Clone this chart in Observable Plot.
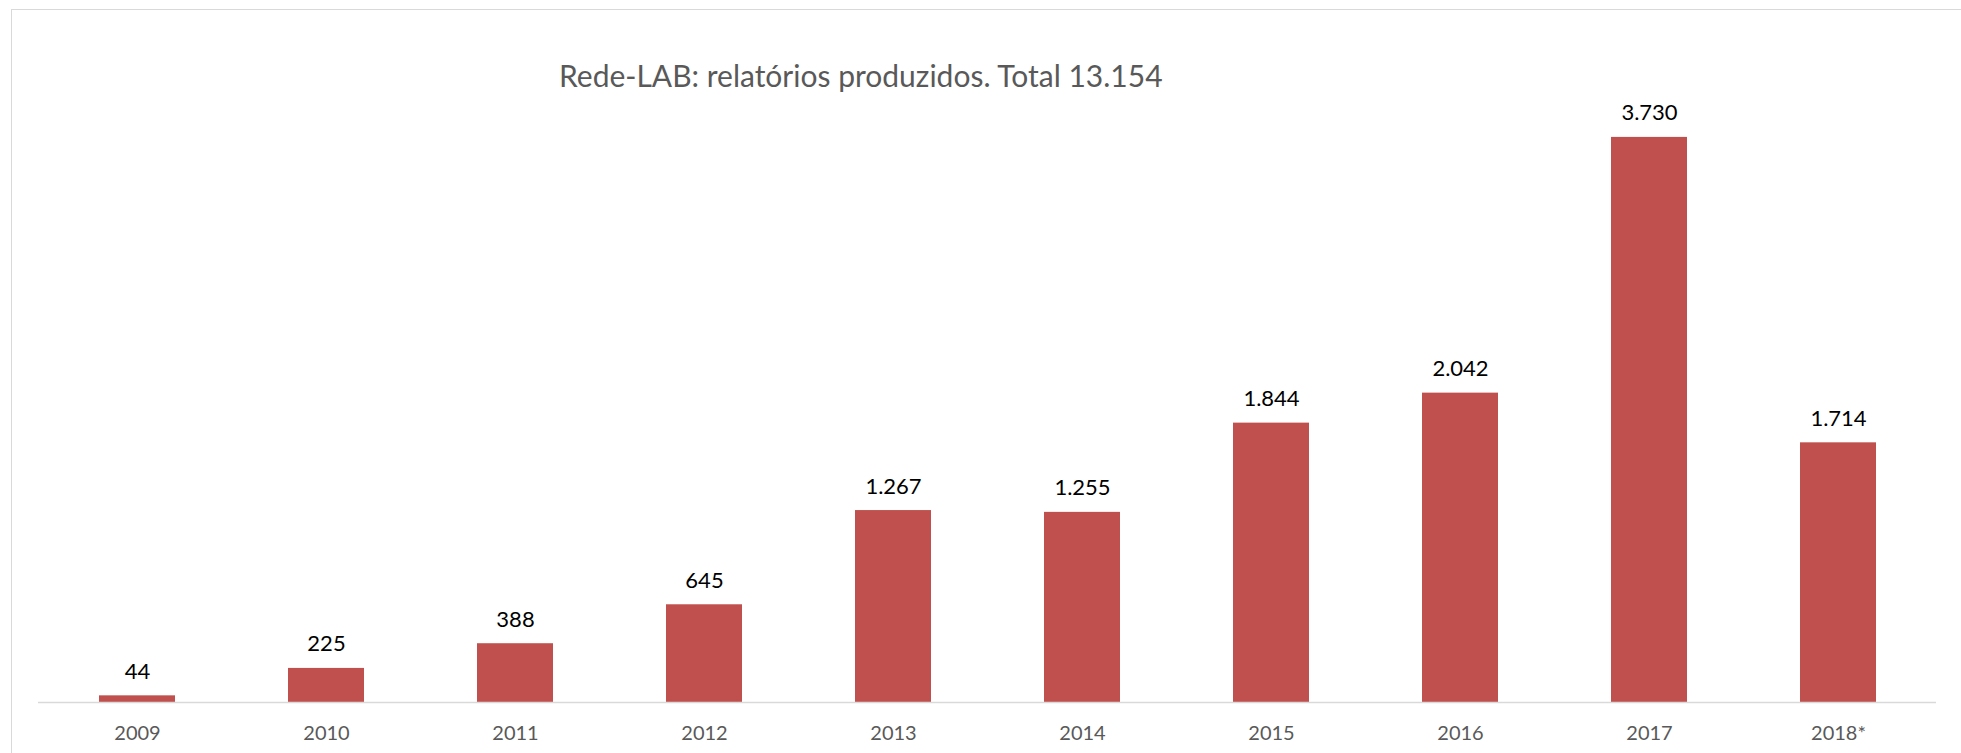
<!DOCTYPE html>
<html>
<head>
<meta charset="utf-8">
<script src="https://cdn.jsdelivr.net/npm/d3@7"></script>
<script src="https://cdn.jsdelivr.net/npm/@observablehq/plot@0.6"></script>
<style>
  html, body { margin: 0; padding: 0; background: #fff; }
  #wrap { position: relative; width: 1961px; height: 753px; overflow: hidden; background: #fff; font-family: Lato, "Open Sans", sans-serif; }
  #frame { position: absolute; left: 11px; top: 9px; width: 2100px; height: 900px; border-top: 1.5px solid #d9d9d9; border-left: 1.5px solid #d9d9d9; pointer-events: none; }
  #title { position: relative; height: 90px; }
  #title span { position: absolute; left: 559px; top: 60px; font-size: 30px; line-height: 1; color: #595959; white-space: nowrap; }
  #chart { position: relative; }
</style>
</head>
<body>
<div id="wrap">
  <div id="frame"></div>
  <div id="title"><span>Rede-LAB: relatórios produzidos. Total 13.154</span></div>
  <div id="chart"></div>
</div>
<script>
const years = ["2009", "2010", "2011", "2012", "2013", "2014", "2015", "2016", "2017", "2018*"];
const reports = [44, 225, 388, 645, 1267, 1255, 1844, 2042, 3730, 1714];

const data = years.map((year, i) => ({year, value: reports[i]}));
const fmt = d3.formatLocale({decimal: ",", thousands: ".", grouping: [3], currency: ["R$", ""]}).format(",d");

const chart = Plot.plot({
  width: 1961,
  height: 663,
  marginTop: 6,
  marginBottom: 51,
  marginLeft: 38,
  marginRight: 25,
  style: {fontFamily: "Lato, 'Open Sans', sans-serif", background: "transparent"},
  x: {domain: years, paddingInner: 0.6, paddingOuter: 0.3, label: null},
  y: {domain: [0, 4000], axis: null},
  marks: [
    Plot.barY(data, {x: "year", y: "value", fill: "#C0504D"}),
    Plot.ruleY([0], {stroke: "#d9d9d9", strokeWidth: 1.5}),
    Plot.text(data, {x: "year", y: "value", text: d => fmt(d.value), lineAnchor: "bottom", dy: -17, fontSize: 22, fill: "#000"}),
    Plot.axisX({tickSize: 0, tickPadding: 23, fontSize: 20, color: "#595959", label: null})
  ]
});
document.getElementById("chart").appendChild(chart);
</script>
</body>
</html>
